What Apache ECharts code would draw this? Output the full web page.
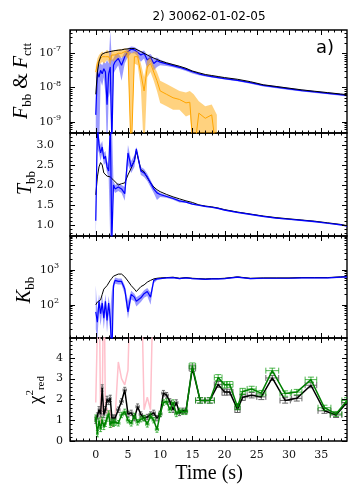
<!DOCTYPE html>
<html>
<head>
<meta charset="utf-8">
<script src="https://cdn.jsdelivr.net/npm/echarts@6/dist/echarts.min.js"></script>
<style>
html, body { margin: 0; padding: 0; background: #fff; }
#chart { width: 358px; height: 495px; }
</style>
</head>
<body>
<div id="chart"></div>
<script>
// time grid (s) for panels a-c
var tA = [0, 0.25, 0.5, 0.75, 1, 1.25, 1.5, 1.75, 2, 2.25, 2.5, 2.75, 3, 3.5, 4, 4.5, 5, 5.5, 6, 6.3, 7, 7.5, 8, 8.5, 9, 9.5, 10, 11, 12, 13, 14, 15, 16, 17, 18, 19, 20, 22, 24, 26, 28, 30, 32, 34, 36, 38, 39];

// panel 1: log10 flux
var logFtot = [-8.2, -7.55, -7.25, -7.1, -7.02, -7.0, -6.98, -6.97, -6.96, -6.95, -6.94, -6.93, -6.92, -6.91, -6.9, -6.88, -6.87, -6.86, -6.86, -6.88, -6.95, -7.0, -7.05, -7.1, -7.14, -7.18, -7.22, -7.28, -7.33, -7.38, -7.44, -7.52, -7.57, -7.62, -7.65, -7.68, -7.71, -7.76, -7.83, -7.92, -7.97, -8.02, -8.07, -8.11, -8.15, -8.19, -8.21];
var logFbb = [-8.8, -7.55, -7.7, -7.5, -7.6, -7.45, -7.55, -8.5, -7.6, -7.4, -9.6, -7.35, -7.25, -7.15, -7.35, -7.1, -6.95, -6.88, -6.9, -6.9, -7.05, -7.0, -7.2, -7.12, -7.3, -7.22, -7.26, -7.31, -7.36, -7.41, -7.47, -7.54, -7.6, -7.65, -7.68, -7.71, -7.74, -7.79, -7.86, -7.94, -7.99, -8.04, -8.09, -8.13, -8.17, -8.21, -8.23];
var logFbbHi = [-8.3, -7.3, -7.35, -7.3, -7.35, -7.25, -7.3, -7.2, -7.3, -6.35, -7.2, -7.15, -7.05, -7.0, -7.15, -6.95, -6.85, -6.8, -6.82, -6.85, -6.95, -6.92, -7.05, -7.02, -7.15, -7.12, -7.19, -7.26, -7.32, -7.37, -7.43, -7.5, -7.57, -7.62, -7.65, -7.68, -7.71, -7.76, -7.83, -7.91, -7.96, -8.01, -8.06, -8.1, -8.14, -8.18, -8.2];
var logFbbLo = [-10, -9.5, -10, -7.8, -7.95, -7.7, -8.2, -10, -8.3, -8.1, -10, -7.6, -7.5, -7.35, -7.8, -7.3, -7.1, -7.0, -7.0, -7.05, -7.25, -7.15, -7.45, -7.25, -7.5, -7.4, -7.35, -7.37, -7.41, -7.46, -7.52, -7.59, -7.64, -7.68, -7.71, -7.74, -7.77, -7.82, -7.89, -7.97, -8.02, -8.07, -8.12, -8.16, -8.2, -8.24, -8.26];

var tO = [0, 0.25, 0.5, 0.75, 1, 1.25, 1.5, 1.75, 2, 2.25, 2.5, 2.75, 3, 3.5, 4, 4.5, 5, 5.5, 6, 6.5, 7, 7.5, 8, 8.5, 9, 9.5, 10, 11, 12, 13, 14, 14.6, 15.2, 16, 17, 18, 18.8];
var logFctt = [-7.55, -7.3, -7.2, -7.15, -7.1, -7.15, -7.1, -7.05, -7.1, -7.2, -7.05, -7.1, -7.05, -7.0, -7.0, -6.95, -6.98, -10, -7.1, -7.1, -7.6, -8.1, -7.4, -7.3, -7.55, -7.8, -8.1, -8.2, -8.3, -8.35, -8.45, -8.43, -10, -8.75, -8.9, -8.8, -10];
var logFcttHi = [-7.4, -7.15, -7.05, -7.0, -6.95, -7.0, -6.95, -6.9, -6.95, -7.05, -6.9, -6.95, -6.92, -6.88, -6.88, -6.85, -6.88, -7.0, -6.95, -6.95, -7.3, -7.7, -7.2, -7.1, -7.35, -7.55, -7.8, -7.9, -8.0, -8.1, -8.15, -8.1, -8.2, -8.4, -8.55, -8.5, -8.8];
var logFcttLo = [-7.75, -7.45, -7.35, -7.3, -7.25, -7.3, -7.25, -7.2, -7.25, -7.35, -7.2, -7.25, -7.2, -7.12, -7.12, -7.08, -7.15, -10, -7.3, -7.35, -8.0, -10, -7.7, -7.55, -7.8, -8.1, -8.45, -8.55, -8.65, -8.65, -8.85, -8.8, -10, -9.3, -10, -10, -10];

// panel 2: temperature
var Ttot = [1.75, 2.2, 2.45, 2.56, 2.5, 2.3, 2.25, 2.22, 2.22, 2.2, 2.18, 2.12, 2.08, 2.0, 2.03, 2.05, 2.25, 2.42, 2.62, 2.85, 2.38, 2.33, 2.18, 2.05, 1.95, 1.88, 1.83, 1.76, 1.7, 1.65, 1.6, 1.56, 1.5, 1.47, 1.45, 1.42, 1.38, 1.32, 1.27, 1.22, 1.18, 1.15, 1.12, 1.09, 1.05, 1.01, 0.98];
var Tbb = [1.1, 3.5, 3.0, 2.8, 2.95, 2.65, 2.72, 2.45, 2.35, 3.5, 0.6, 2.0, 1.9, 1.95, 1.9, 1.78, 2.8, 2.45, 2.6, 2.9, 2.35, 2.3, 2.2, 2.05, 1.9, 1.8, 1.76, 1.71, 1.66, 1.6, 1.57, 1.52, 1.49, 1.46, 1.44, 1.41, 1.37, 1.31, 1.26, 1.21, 1.17, 1.14, 1.11, 1.08, 1.04, 1.0, 0.97];
var TbbHi = [1.3, 3.6, 3.2, 3.0, 3.1, 2.8, 2.85, 2.6, 2.5, 3.6, 3.6, 2.1, 2.0, 2.05, 2.0, 1.95, 3.0, 2.6, 2.75, 2.95, 2.45, 2.4, 2.28, 2.12, 1.96, 1.86, 1.8, 1.74, 1.69, 1.62, 1.59, 1.54, 1.51, 1.48, 1.46, 1.43, 1.39, 1.33, 1.28, 1.23, 1.19, 1.16, 1.13, 1.1, 1.06, 1.02, 0.99];
var TbbLo = [0.6, 2.9, 2.8, 2.6, 2.8, 2.5, 2.55, 2.3, 2.2, 0.6, 0.6, 1.88, 1.8, 1.85, 1.8, 1.6, 2.5, 2.3, 2.45, 2.8, 2.25, 2.2, 2.1, 1.95, 1.8, 1.62, 1.7, 1.68, 1.63, 1.56, 1.55, 1.5, 1.47, 1.44, 1.42, 1.39, 1.35, 1.29, 1.24, 1.19, 1.15, 1.12, 1.09, 1.06, 1.02, 0.98, 0.95];

// panel 3: log10 normalisation
var logKtot = [2.0, 2.08, 2.12, 2.14, 2.3, 2.45, 2.5, 2.55, 2.6, 2.7, 2.76, 2.82, 2.85, 2.88, 2.88, 2.8, 2.68, 2.55, 2.45, 2.38, 2.52, 2.57, 2.65, 2.7, 2.74, 2.76, 2.77, 2.78, 2.79, 2.76, 2.78, 2.76, 2.75, 2.74, 2.75, 2.75, 2.76, 2.8, 2.76, 2.77, 2.77, 2.77, 2.78, 2.78, 2.78, 2.8, 2.81];
var logKbb = [1.8, 1.5, 2.1, 1.75, 2.05, 1.62, 2.1, 1.55, 2.05, 1.6, 0.5, 2.55, 2.7, 2.67, 2.67, 2.45, 1.8, 2.3, 2.22, 2.1, 2.2, 2.32, 2.38, 2.22, 2.7, 2.74, 2.75, 2.77, 2.78, 2.75, 2.77, 2.75, 2.74, 2.73, 2.74, 2.74, 2.75, 2.79, 2.75, 2.76, 2.76, 2.76, 2.77, 2.77, 2.77, 2.79, 2.8];
var logKbbHi = [2.55, 1.8, 2.3, 1.95, 2.25, 1.85, 2.3, 1.8, 2.25, 1.85, 2.4, 2.65, 2.78, 2.75, 2.75, 2.55, 2.1, 2.4, 2.32, 2.22, 2.3, 2.42, 2.48, 2.35, 2.76, 2.77, 2.77, 2.79, 2.8, 2.77, 2.79, 2.77, 2.76, 2.75, 2.76, 2.76, 2.77, 2.81, 2.77, 2.78, 2.78, 2.78, 2.79, 2.79, 2.79, 2.81, 2.82];
var logKbbLo = [1.3, 1.0, 1.8, 1.4, 1.8, 1.3, 1.8, 1.2, 1.75, 1.2, 0.5, 2.4, 2.6, 2.58, 2.58, 2.3, 1.6, 2.15, 2.1, 1.95, 2.08, 2.2, 2.25, 2.0, 2.62, 2.7, 2.73, 2.75, 2.76, 2.73, 2.75, 2.73, 2.72, 2.71, 2.72, 2.72, 2.73, 2.77, 2.73, 2.74, 2.74, 2.74, 2.75, 2.75, 2.75, 2.77, 2.78];

// panel 4: reduced chi^2 per bin
var tChi = [0, 0.25, 0.5, 0.75, 1, 1.25, 1.5, 1.75, 2, 2.25, 2.5, 2.75, 3, 3.5, 4, 4.5, 5, 5.5, 6, 6.5, 7, 7.5, 8, 8.5, 9, 9.5, 10, 10.5, 11, 11.5, 12, 12.5, 13, 13.5, 14, 15, 16.2, 17.7, 19, 20, 20.8, 22, 22.8, 24.2, 25.7, 27.4, 29.4, 31.2, 33.4, 35.5, 37.3, 39];
var chiHw = [0.125, 0.125, 0.125, 0.125, 0.125, 0.125, 0.125, 0.125, 0.125, 0.125, 0.125, 0.125, 0.125, 0.25, 0.25, 0.25, 0.25, 0.25, 0.25, 0.25, 0.25, 0.25, 0.25, 0.25, 0.25, 0.25, 0.25, 0.25, 0.25, 0.25, 0.25, 0.25, 0.25, 0.25, 0.25, 0.5, 0.7, 0.7, 0.6, 0.4, 0.5, 0.4, 0.4, 0.7, 0.7, 1.0, 0.8, 0.8, 0.9, 1.0, 0.9, 0.8];
var chiErr = [0.15, 0.15, 0.15, 0.15, 0.15, 0.15, 0.15, 0.15, 0.15, 0.15, 0.15, 0.15, 0.15, 0.13, 0.13, 0.13, 0.13, 0.13, 0.13, 0.13, 0.13, 0.13, 0.13, 0.13, 0.13, 0.13, 0.13, 0.13, 0.13, 0.13, 0.13, 0.13, 0.13, 0.13, 0.13, 0.15, 0.13, 0.13, 0.14, 0.15, 0.14, 0.15, 0.15, 0.13, 0.13, 0.12, 0.13, 0.13, 0.12, 0.12, 0.12, 0.13];
var chiTot = [1.0, 1.2, 1.5, 1.3, 2.55, 1.27, 1.5, 2.0, 1.9, 2.05, 1.1, 1.1, 1.1, 1.5, 1.9, 2.45, 1.3, 1.35, 1.1, 1.65, 1.27, 1.1, 1.15, 1.27, 1.35, 1.1, 1.3, 2.3, 2.2, 1.9, 1.5, 1.85, 1.35, 1.45, 1.45, 3.5, 1.95, 1.95, 2.72, 2.35, 2.35, 1.52, 2.1, 2.2, 2.12, 3.03, 1.95, 2.05, 2.68, 1.45, 1.25, 1.85];
var chiBb = [1.1, 0.35, 0.95, 0.6, 1.0, 0.7, 0.85, 1.1, 1.3, 0.8, 0.9, 0.85, 0.9, 0.85, 1.25, 1.4, 1.0, 0.85, 1.2, 0.9, 1.05, 1.1, 0.8, 1.2, 1.0, 0.55, 1.3, 1.85, 1.9, 1.5, 1.85, 1.3, 1.45, 1.4, 1.4, 3.6, 1.95, 1.95, 3.05, 2.7, 2.72, 1.65, 2.38, 2.5, 2.3, 3.38, 2.28, 2.35, 2.95, 1.6, 1.3, 1.95];
var tPink = [0, 0.25, 0.5, 0.75, 1, 1.25, 1.5, 1.75, 2, 2.25, 2.5, 2.75, 3, 3.5, 4, 4.5, 5, 5.5, 6, 6.5, 7, 7.5, 8, 8.5, 9];
var chiPink = [1.85, 1.8, 9, 0.8, 1.5, 9, 1.3, 1.6, 1.2, 1.5, 0.65, 1.0, 1.1, 3.8, 3.0, 2.7, 3.4, 9, 9, 9, 9, 1.5, 2.1, 1.5, 9];

// tick labels
var xTicks = [0, 5, 10, 15, 20, 25, 30, 35];
var fluxTicks = [-9, -8, -7];
var tempTicks = [1.0, 1.5, 2.0, 2.5, 3.0];
var normTicks = [2, 3];
var chiTicks = [0, 1, 2, 3, 4];

var xRange = [-4, 39];
var yRanges = [[-9.33, -6.32], [0.72, 3.3], [1.05, 3.97], [0, 4.95]];
var tops = [30, 133, 236, 338];
var heights = [103, 103, 102, 103];

function pow10Label(v) {
    return '{b|10}{s|' + String(Math.round(v)) + '}';
}
function pair(t, v) {
    return t.map(function (x, i) { return [x, v[i]]; });
}
function logMinor(r) {
    var out = [];
    for (var n = Math.floor(r[0]); n <= Math.ceil(r[1]); n++) {
        for (var k = 2; k <= 9; k++) {
            var v = n + Math.log10(k);
            if (v > r[0] && v < r[1]) out.push(v);
        }
    }
    return out;
}
function linMinor(r, step, major) {
    var out = [];
    for (var v = Math.ceil(r[0] / step) * step; v < r[1]; v += step) {
        var q = Math.round(v * 1000) / 1000;
        if (Math.abs(q / major - Math.round(q / major)) > 1e-6) out.push(q);
    }
    return out;
}
var xMinor = linMinor(xRange, 1, 5);
var yMajors = [fluxTicks, tempTicks, normTicks, chiTicks];
var yMinors = [logMinor(yRanges[0]), linMinor(yRanges[1], 0.1, 0.5), logMinor(yRanges[2]), linMinor(yRanges[3], 0.2, 1)];

var chart = echarts.init(document.getElementById('chart'));

var tickFont = 'DejaVu Serif';
var grid = [], xAxis = [], yAxis = [];
for (var g = 0; g < 4; g++) {
    grid.push({left: 70, right: 11, top: tops[g], height: heights[g], show: true,
        borderColor: '#000', borderWidth: 1.4, backgroundColor: 'transparent'});
    xAxis.push({
        gridIndex: g, type: 'value', min: xRange[0], max: xRange[1], splitNumber: 9,
        axisLine: {show: false}, axisTick: {show: false}, splitLine: {show: false},
        axisLabel: g === 3 ? {
            show: true, customValues: xTicks,
            fontFamily: tickFont, fontSize: 11, color: '#111', margin: 9
        } : {show: false}
    });
}
var yFormat = [pow10Label, function (v) { return v.toFixed(1); }, pow10Label, function (v) { return String(Math.round(v)); }];
var yMargin = [9, 16, 11, 7];
for (var h = 0; h < 4; h++) {
    yAxis.push({
        gridIndex: h, type: 'value', min: yRanges[h][0], max: yRanges[h][1], splitNumber: 5,
        axisLine: {show: false}, axisTick: {show: false}, splitLine: {show: false},
        axisLabel: {
            customValues: yMajors[h],
            formatter: yFormat[h], fontFamily: tickFont, fontSize: 11, color: '#111', margin: yMargin[h],
            rich: {
                b: {fontFamily: tickFont, fontSize: 11, lineHeight: 16, color: '#111'},
                s: {fontFamily: tickFont, fontSize: 8, lineHeight: 10, verticalAlign: 'top', color: '#111'}
            }
        }
    });
}

function lineSeries(gi, t, v, color, width, z) {
    return {type: 'line', xAxisIndex: gi, yAxisIndex: gi, data: pair(t, v), symbol: 'none',
        silent: true, clip: true, z: z, lineStyle: {color: color, width: width}};
}
function bandSeries(gi, t, lo, hi, color, z) {
    return {
        type: 'custom', xAxisIndex: gi, yAxisIndex: gi, clip: true, silent: true, z: z,
        data: [[t[0], hi[0]]],
        renderItem: function (params, api) {
            var pts = [];
            for (var i = 0; i < t.length; i++) pts.push(api.coord([t[i], hi[i]]));
            for (var j = t.length - 1; j >= 0; j--) pts.push(api.coord([t[j], lo[j]]));
            return {type: 'polygon', shape: {points: pts}, style: {fill: color}};
        }
    };
}
function errSeries(gi, t, v, hw, err, color, z) {
    return {
        type: 'custom', xAxisIndex: gi, yAxisIndex: gi, clip: true, silent: true, z: z,
        data: t.map(function (x, i) { return [x, v[i], hw[i], err[i]]; }),
        renderItem: function (params, api) {
            var x = api.value(0), y = api.value(1), w = api.value(2), e = api.value(3);
            var l = api.coord([x - w, y]), r = api.coord([x + w, y]);
            var tp = api.coord([x, y + e]), bt = api.coord([x, y - e]);
            var cap = w > 0.3 ? 3 : 1.5;
            var st = {stroke: color, lineWidth: 1};
            function seg(x1, y1, x2, y2) { return {type: 'line', shape: {x1: x1, y1: y1, x2: x2, y2: y2}, style: st}; }
            return {type: 'group', children: [
                seg(l[0], l[1], r[0], r[1]),
                seg(l[0], l[1] - cap, l[0], l[1] + cap),
                seg(r[0], r[1] - cap, r[0], r[1] + cap),
                seg(tp[0], tp[1], bt[0], bt[1]),
                seg(tp[0] - cap, tp[1], tp[0] + cap, tp[1]),
                seg(bt[0] - cap, bt[1], bt[0] + cap, bt[1])
            ]};
        }
    };
}
function tickSeries(gi) {
    return {
        type: 'custom', xAxisIndex: gi, yAxisIndex: gi, silent: true, z: 30,
        data: [[xRange[0], yRanges[gi][0]]],
        renderItem: function (params, api) {
            var cs = params.coordSys, kids = [];
            var st = {stroke: '#000', lineWidth: 1};
            var x0 = cs.x, x1 = cs.x + cs.width, y0 = cs.y, y1 = cs.y + cs.height;
            function xt(v, len) {
                var px = Math.round(api.coord([v, yRanges[gi][0]])[0]) + 0.5;
                kids.push({type: 'line', shape: {x1: px, y1: y1, x2: px, y2: y1 - len}, style: st});
                kids.push({type: 'line', shape: {x1: px, y1: y0, x2: px, y2: y0 + len}, style: st});
            }
            function yt(v, len) {
                var py = Math.round(api.coord([xRange[0], v])[1]) + 0.5;
                kids.push({type: 'line', shape: {x1: x0, y1: py, x2: x0 + len, y2: py}, style: st});
                kids.push({type: 'line', shape: {x1: x1, y1: py, x2: x1 - len, y2: py}, style: st});
            }
            xTicks.forEach(function (v) { xt(v, 5); });
            xMinor.forEach(function (v) { xt(v, 2.5); });
            yMajors[gi].forEach(function (v) { yt(v, 5); });
            yMinors[gi].forEach(function (v) { yt(v, 2.5); });
            return {type: 'group', children: kids};
        }
    };
}

var series = [
    bandSeries(0, tA, logFbbLo, logFbbHi, 'rgba(30,30,255,0.45)', 2),
    lineSeries(0, tA, logFbb, '#0000ff', 1.2, 3),
    bandSeries(0, tO, logFcttLo, logFcttHi, 'rgba(255,165,0,0.5)', 4),
    lineSeries(0, tO, logFctt, '#ffa500', 1, 5),
    lineSeries(0, tA, logFtot, '#000000', 1, 6),

    bandSeries(1, tA, TbbLo, TbbHi, 'rgba(30,30,255,0.45)', 2),
    lineSeries(1, tA, Ttot, '#000000', 1, 3),
    lineSeries(1, tA, Tbb, '#0000ff', 1.2, 4),

    bandSeries(2, tA, logKbbLo, logKbbHi, 'rgba(30,30,255,0.45)', 2),
    lineSeries(2, tA, logKtot, '#000000', 1, 3),
    lineSeries(2, tA, logKbb, '#0000ff', 1.2, 4),

    lineSeries(3, tPink, chiPink, '#ffc0cb', 1.5, 2),
    errSeries(3, tChi, chiTot, chiHw, chiErr, '#666666', 3),
    lineSeries(3, tChi, chiTot, '#000000', 1.5, 4),
    errSeries(3, tChi, chiBb, chiHw, chiErr, 'rgba(0,150,0,0.7)', 5),
    lineSeries(3, tChi, chiBb, '#008000', 1.5, 6)
];
for (var s = 0; s < 4; s++) series.push(tickSeries(s));

var serif = 'Liberation Serif';
var graphic = [
    {type: 'text', x: 209, y: 17, style: {text: '2) 30062-01-02-05', fontFamily: 'DejaVu Sans', fontSize: 12, fill: '#000', align: 'center', verticalAlign: 'middle'}},
    {type: 'text', x: 325, y: 48, style: {text: 'a)', fontFamily: 'DejaVu Sans', fontSize: 18, fill: '#000', align: 'center', verticalAlign: 'middle'}},
    {type: 'text', x: 209, y: 474, style: {text: 'Time (s)', fontFamily: serif, fontSize: 20, fill: '#000', align: 'center', verticalAlign: 'middle'}},
    {type: 'text', x: 22, y: 81, rotation: Math.PI / 2, style: {
        text: '{i|F}{s|bb}{m| & }{i|F}{s|ctt}', align: 'center', verticalAlign: 'middle',
        rich: {
            i: {fontFamily: serif, fontStyle: 'italic', fontSize: 20, lineHeight: 24, fill: '#000'},
            s: {fontFamily: serif, fontSize: 13, lineHeight: 15, verticalAlign: 'bottom', fill: '#000'},
            m: {fontFamily: serif, fontSize: 20, lineHeight: 24, fill: '#000'}
        }}},
    {type: 'text', x: 26, y: 183, rotation: Math.PI / 2, style: {
        text: '{i|T}{s|bb}', align: 'center', verticalAlign: 'middle',
        rich: {
            i: {fontFamily: serif, fontStyle: 'italic', fontSize: 20, lineHeight: 24, fill: '#000'},
            s: {fontFamily: serif, fontSize: 13, lineHeight: 15, verticalAlign: 'bottom', fill: '#000'}
        }}},
    {type: 'text', x: 25, y: 290, rotation: Math.PI / 2, style: {
        text: '{i|K}{s|bb}', align: 'center', verticalAlign: 'middle',
        rich: {
            i: {fontFamily: serif, fontStyle: 'italic', fontSize: 20, lineHeight: 24, fill: '#000'},
            s: {fontFamily: serif, fontSize: 13, lineHeight: 15, verticalAlign: 'bottom', fill: '#000'}
        }}},
    {type: 'text', x: 36, y: 390, rotation: Math.PI / 2, style: {
        text: '{i|\u03c7}{p|2}{s|red}', align: 'center', verticalAlign: 'middle',
        rich: {
            i: {fontFamily: serif, fontSize: 19, lineHeight: 22, fill: '#000'},
            p: {fontFamily: serif, fontSize: 11, lineHeight: 12, verticalAlign: 'top', fill: '#000'},
            s: {fontFamily: serif, fontSize: 11, lineHeight: 12, verticalAlign: 'bottom', fill: '#000'}
        }}}
];

chart.setOption({
    animation: false,
    backgroundColor: '#fff',
    grid: grid,
    xAxis: xAxis,
    yAxis: yAxis,
    series: series,
    graphic: graphic
});
</script>
</body>
</html>
